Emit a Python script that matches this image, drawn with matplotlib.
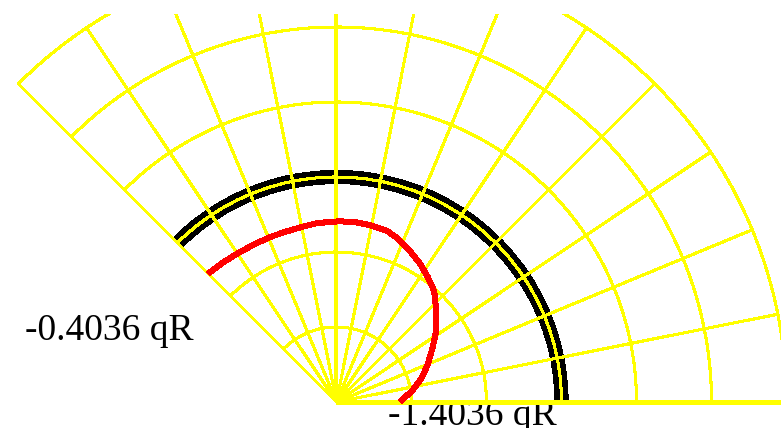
"""
Polar fan plot of two qR traces over a yellow r/theta grid.
"""

import matplotlib
matplotlib.use('Agg')
import matplotlib.pyplot as plt
from matplotlib.patches import Arc
import numpy as np

##########################
## Input

# Grid rings (radius units) and spoke spacing (degrees)
rings = [1, 2, 3, 4, 5, 6]
spoke_step = 11.25
theta_max = 135.0

# Black trace: constant radius over the full fan
black_r = 3.0

# Red trace
red_theta = [135.0, 129.4, 123.1, 116.7, 111.4, 106.5, 101.0, 96.1, 89.0, 83.7,
             79.4, 73.7, 69.5, 64.2, 59.2, 54.2, 48.6, 42.3, 35.4, 29.4,
             22.1, 15.8, 9.0, 0.0]
red_r = [2.42, 2.40, 2.38, 2.37, 2.37, 2.37, 2.38, 2.40, 2.41, 2.41,
         2.40, 2.38, 2.33, 2.24, 2.16, 2.07, 1.97, 1.80, 1.63, 1.47,
         1.31, 1.18, 1.03, 0.85]

# Labels
label_left = '-0.4036 qR'
label_bottom = '-1.4036 qR'

yellow = '#FFFF00'

##########################
## Figure: 75 px per radius unit, origin at (336.5, 402) px
W, H = 781, 428
unit = 75.0
ox, oy = 336.5, 402.0
top_px = 14

fig = plt.figure(figsize=(W / 100, H / 100), dpi=100)
ax = fig.add_axes([0, 0, 1, (H - top_px) / H])
ax.set_xlim(-ox / unit, (W - ox) / unit)
ax.set_ylim(-(H - oy) / unit, (oy - top_px) / unit)
ax.axis('off')

# Grid rings (drawn without antialiasing, plain 2 px strokes)
for r in rings:
    ax.add_patch(Arc((0, 0), 2 * r, 2 * r, theta1=0, theta2=theta_max,
                     color=yellow, lw=1.5, antialiased=False, zorder=3))

# Spokes
for t in np.arange(0, theta_max + 0.1, spoke_step):
    a = np.radians(t)
    lw = 2.2 if t == 0 else 1.5
    ax.plot([0, rings[-1] * np.cos(a)], [0, rings[-1] * np.sin(a)],
            color=yellow, lw=lw, solid_capstyle='butt', antialiased=False,
            zorder=3)

# Black trace sits under the grid
ax.add_patch(Arc((0, 0), 2 * black_r, 2 * black_r, theta1=0, theta2=theta_max,
                 color='black', lw=9.5, antialiased=False, zorder=2))

# Red trace on top
rt = np.radians(red_theta)
ax.plot(np.array(red_r) * np.cos(rt), np.array(red_r) * np.sin(rt),
        color='red', lw=3.6, solid_capstyle='butt', solid_joinstyle='round',
        antialiased=False, zorder=4)

# Text labels
ax.text((25 - ox) / unit, (oy - 340) / unit, label_left,
        family='Liberation Serif', fontsize=27, ha='left', va='baseline', zorder=1)
ax.text((388 - ox) / unit, (oy - 425) / unit, label_bottom,
        family='Liberation Serif', fontsize=27, ha='left', va='baseline', zorder=1)

fig.savefig('out.png', dpi=100)
